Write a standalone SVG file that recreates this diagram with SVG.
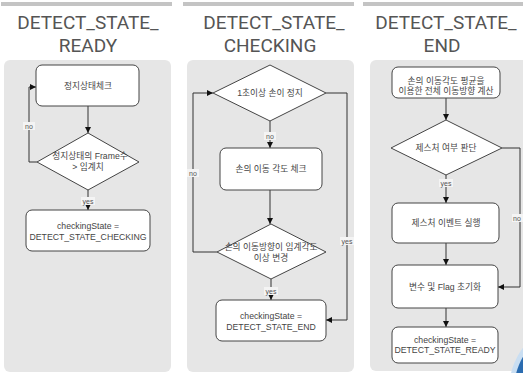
<svg xmlns="http://www.w3.org/2000/svg" width="523" height="373" viewBox="0 0 523 373">
<defs>
<marker id="arr" markerUnits="userSpaceOnUse" markerWidth="8" markerHeight="8" refX="7" refY="4" orient="auto">
<path d="M1,1 L7,4 L1,7 Z" fill="#111"/>
</marker>
<style>
.bar{fill:#c4c4c4}
.panel{fill:#e6e6e6}
.title{font-family:Roboto,"Liberation Sans",sans-serif;font-size:19px;fill:#555;text-anchor:middle}
.box{fill:#fff;stroke:#444;stroke-width:1}
.t{font-family:"Liberation Sans","Noto Sans CJK KR",sans-serif;font-size:8.7px;fill:#444;text-anchor:middle;dominant-baseline:central}
.c{fill:none;stroke:#333;stroke-width:1}
.lb{font-family:"Liberation Sans",sans-serif;font-size:7px;fill:#555;text-anchor:middle;dominant-baseline:central}
.lbg{fill:#f4f4f4}
</style>
</defs>
<rect width="523" height="373" fill="#fff"/>
<g id="bg">
<rect class="bar" x="1" y="2" width="171" height="4"/>
<rect class="bar" x="183" y="2" width="171" height="4"/>
<rect class="bar" x="363" y="2" width="165" height="4"/>
<rect class="panel" x="4" y="60" width="167" height="312" rx="6"/>
<rect class="panel" x="187" y="60" width="167" height="312" rx="6"/>
<rect class="panel" x="370" y="60" width="160" height="311" rx="6"/>
<text class="title" x="88" y="29">DETECT_STATE_</text>
<text class="title" x="88" y="52">READY</text>
<text class="title" x="274" y="29">DETECT_STATE_</text>
<text class="title" x="270" y="52">CHECKING</text>
<text class="title" x="446" y="29">DETECT_STATE_</text>
<text class="title" x="442" y="52">END</text>
</g>
<g id="connectors">
<path class="c" d="M88,106 V133" marker-end="url(#arr)"/>
<path class="c" d="M37,162 H29 V87 H36" marker-end="url(#arr)"/>
<path class="c" d="M88,190 V210" marker-end="url(#arr)"/>
<path class="c" d="M270,121 V148" marker-end="url(#arr)"/>
<path class="c" d="M270,190 V224" marker-end="url(#arr)"/>
<path class="c" d="M217,252 H193 V93 H213" marker-end="url(#arr)"/>
<path class="c" d="M326,93 H347 V320 H326" marker-end="url(#arr)"/>
<path class="c" d="M271,279 V300" marker-end="url(#arr)"/>
<path class="c" d="M446,98 V120" marker-end="url(#arr)"/>
<path class="c" d="M446,175 V203" marker-end="url(#arr)"/>
<path class="c" d="M502,148 H520 V287 H498" marker-end="url(#arr)"/>
<path class="c" d="M446,243 V265" marker-end="url(#arr)"/>
<path class="c" d="M446,308 V327" marker-end="url(#arr)"/>
<rect class="lbg" x="23" y="122" width="12" height="8"/><text class="lb" x="29" y="126">no</text>
<rect class="lbg" x="81" y="197" width="14" height="8"/><text class="lb" x="88" y="201">yes</text>
<rect class="lbg" x="264" y="132" width="12" height="8"/><text class="lb" x="270" y="136">no</text>
<rect class="lbg" x="187" y="169" width="12" height="8"/><text class="lb" x="193" y="173">no</text>
<rect class="lbg" x="340" y="237" width="14" height="8"/><text class="lb" x="347" y="241">yes</text>
<rect class="lbg" x="264" y="287" width="14" height="8"/><text class="lb" x="271" y="291">yes</text>
<rect class="lbg" x="439" y="179" width="14" height="8"/><text class="lb" x="446" y="183">yes</text>
<rect class="lbg" x="512" y="214" width="11" height="8"/><text class="lb" x="517" y="218">no</text>
</g>
<g id="n1"><rect class="box" x="36" y="65" width="103" height="41" rx="6"/><text class="t" x="88" y="86">정지상태체크</text></g>
<g id="n2"><polygon class="box" points="88,133 139,162 88,190 37,162"/><text class="t" x="90" y="156">정지상태의 Frame수</text><text class="t" x="88" y="167">&gt; 임계치</text></g>
<g id="n3"><rect class="box" x="26" y="210" width="124" height="41" rx="6"/><text class="t" x="88" y="226">checkingState =</text><text class="t" x="88" y="237">DETECT_STATE_CHECKING</text></g>
<g id="m1"><polygon class="box" points="270,65 326,93 270,121 213,93"/><text class="t" x="270" y="93">1초이상 손이 정지</text></g>
<g id="m2"><rect class="box" x="220" y="148" width="102" height="42" rx="6"/><text class="t" x="271" y="169">손의 이동 각도 체크</text></g>
<g id="m3"><polygon class="box" points="271,224 326,252 271,279 217,252"/><text class="t" x="271" y="247">손의 이동방향이 임계각도</text><text class="t" x="271" y="258">이상 변경</text></g>
<g id="m4"><rect class="box" x="216" y="300" width="110" height="41" rx="6"/><text class="t" x="271" y="316">checkingState =</text><text class="t" x="271" y="327">DETECT_STATE_END</text></g>
<g id="r1"><rect class="box" x="392" y="67" width="108" height="31" rx="6"/><text class="t" x="446" y="81">손의 이동각도 평균을</text><text class="t" x="446" y="91">이용한 전체 이동방향 계산</text></g>
<g id="r2"><polygon class="box" points="446,120 502,148 446,175 391,148"/><text class="t" x="446" y="148">제스처 여부 판단</text></g>
<g id="r3"><rect class="box" x="392" y="203" width="107" height="40" rx="6"/><text class="t" x="446" y="223">제스처 이벤트 실행</text></g>
<g id="r4"><rect class="box" x="392" y="265" width="106" height="43" rx="6"/><text class="t" x="445" y="287">변수 및 Flag 초기화</text></g>
<g id="r5"><rect class="box" x="392" y="327" width="106" height="36" rx="6"/><text class="t" x="445" y="340">checkingState =</text><text class="t" x="445" y="350">DETECT_STATE_READY</text></g>
<g id="deco">
<circle cx="580" cy="390" r="71" fill="#c9def2"/>
<circle cx="580" cy="390" r="66" fill="#2b6cb0"/>
</g>
</svg>
